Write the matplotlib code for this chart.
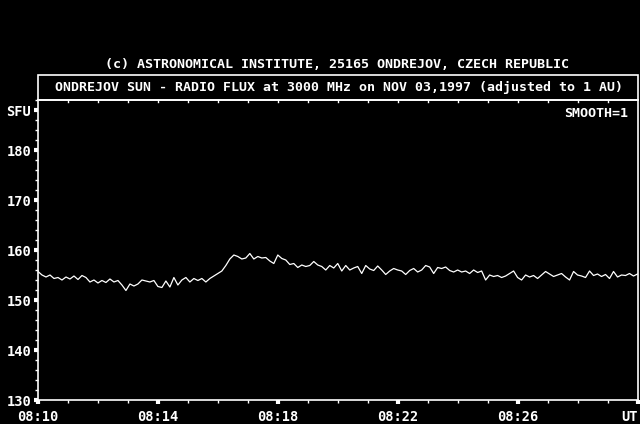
import matplotlib
matplotlib.use("Agg")
import matplotlib.pyplot as plt
from matplotlib.patches import Rectangle
from matplotlib.ticker import MultipleLocator
import numpy as np

# time in minutes after 08:10 (sample every 8 s)
step_min = 8.0 / 60.0
flux = [
    155.7, 155.0, 154.6, 155.0, 154.3, 154.5, 154.0, 154.6, 154.2, 154.8,
    154.1, 154.9, 154.5, 153.6, 154.0, 153.4, 153.9, 153.5, 154.2, 153.6,
    153.9, 153.0, 151.9, 153.2, 152.8, 153.2, 154.0, 153.8, 153.6, 153.9,
    152.7, 152.5, 153.8, 152.6, 154.5, 153.0, 154.0, 154.5, 153.6, 154.3,
    153.9, 154.3, 153.6, 154.3, 154.8, 155.3, 155.8, 156.9, 158.2, 159.0,
    158.7, 158.2, 158.4, 159.3, 158.2, 158.7, 158.4, 158.5, 157.8, 157.3,
    159.0, 158.3, 158.0, 157.1, 157.3, 156.5, 157.0, 156.7, 156.9, 157.7,
    157.0, 156.7, 156.0, 156.9, 156.4, 157.3, 155.8, 156.9, 156.0, 156.4,
    156.7, 155.3, 156.9, 156.2, 155.9, 156.8, 156.0, 155.1, 155.8, 156.3,
    156.0, 155.8, 155.1, 155.9, 156.3, 155.6, 156.0, 156.9, 156.6, 155.3,
    156.5, 156.3, 156.6, 155.9, 155.6, 156.0, 155.6, 155.8, 155.3, 156.0,
    155.5, 155.8, 154.0, 155.0, 154.7, 154.9, 154.5, 154.8, 155.3, 155.8,
    154.5, 154.0, 155.0, 154.6, 154.9, 154.3, 155.0, 155.7, 155.2, 154.7,
    155.0, 155.3, 154.6, 154.0, 155.7, 155.0, 154.8, 154.5, 155.8, 154.9,
    155.2, 154.7, 155.1, 154.3, 155.7, 154.6, 155.0, 154.9, 155.3, 154.8,
    155.2,
]
t = np.arange(len(flux)) * step_min

xtick_pos = [0, 4, 8, 12, 16]
xtick_labels = ["08:10", "08:14", "08:18", "08:22", "08:26"]
ytick_pos = [130, 140, 150, 160, 170, 180, 188]
ytick_labels = ["130", "140", "150", "160", "170", "180", "SFU"]

title_top = "(c) ASTRONOMICAL INSTITUTE, 25165 ONDREJOV, CZECH REPUBLIC"
title_box = "ONDREJOV SUN - RADIO FLUX at 3000 MHz on NOV 03,1997 (adjusted to 1 AU)"

W, H = 640, 424
fig = plt.figure(figsize=(W / 100, H / 100), dpi=100, facecolor="black")

def fx(px):
    return px / W

def fy(py):
    return 1 - py / H

ax = fig.add_axes([fx(38), fy(400), fx(637.5) - fx(38), fy(100) - fy(400)])
ax.set_facecolor("black")
ax.plot(t, flux, color="white", lw=0.9)
ax.set_xlim(0, 20)
ax.set_ylim(130, 190)

font = dict(family="DejaVu Sans Mono", color="white", fontweight="bold")

ax.set_xticks(xtick_pos + [20])
ax.set_xticklabels(xtick_labels + ["UT"], fontsize=9.8, **font)
ax.xaxis.set_minor_locator(MultipleLocator(1))
ax.set_yticks(ytick_pos)
ax.set_yticklabels(ytick_labels, fontsize=9.8, **font)
ax.yaxis.set_minor_locator(MultipleLocator(2))
lbl = ax.get_xticklabels()[-1]
lbl.set_horizontalalignment("right")

ax.tick_params(axis="x", which="major", direction="out", length=3, width=3,
               color="white", pad=4, top=False)
ax.tick_params(axis="x", which="minor", direction="out", length=2, width=1,
               color="white", top=False)
ax.tick_params(axis="y", which="major", direction="out", length=3, width=3,
               color="white", pad=2)
ax.tick_params(axis="y", which="minor", direction="out", length=2, width=1,
               color="white")
for s in ax.spines.values():
    s.set_color("white")
    s.set_linewidth(1.2)

# small ticks under the top frame line
for m in range(1, 20):
    ax.plot([m, m], [190, 189.6], color="white", lw=1, clip_on=False)

# title box
fig.patches.append(Rectangle((fx(38), fy(100)), fx(637.5) - fx(38), fy(75) - fy(100),
                             transform=fig.transFigure, fill=False,
                             edgecolor="white", lw=1.2))
fig.text(fx(339), fy(88), title_box, ha="center", va="center", fontsize=9.55, **font)
fig.text(fx(337), fy(64), title_top, ha="center", va="center", fontsize=9.6, **font)
ax.text(0.985, 0.955, "SMOOTH=1", transform=ax.transAxes, ha="right", va="center",
        fontsize=9.6, **font)

fig.savefig("out.png", dpi=100, facecolor="black")
